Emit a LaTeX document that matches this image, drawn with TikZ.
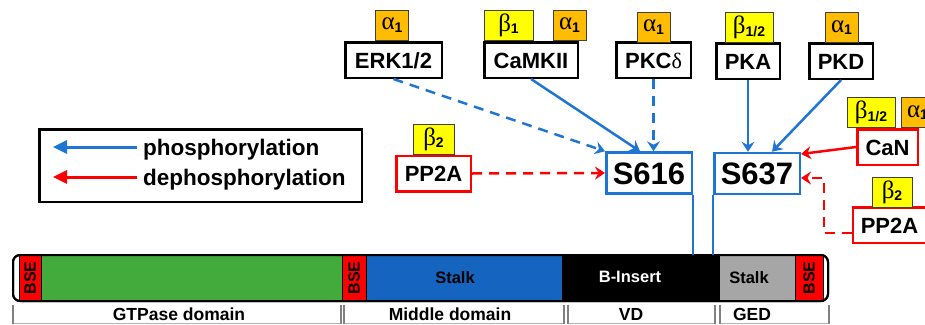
\documentclass[tikz,border=0pt]{standalone}
\usepackage{fontspec}
\setmainfont{Liberation Sans}
\newfontfamily\grk{Liberation Serif}
\usetikzlibrary{arrows.meta}
\definecolor{phblue}{RGB}{30,118,210}
\definecolor{stalkblue}{RGB}{21,101,192}
\definecolor{gtpgreen}{RGB}{67,170,60}
\definecolor{isoorange}{RGB}{255,188,0}
\definecolor{isoyellow}{RGB}{255,255,0}
\definecolor{gedgray}{RGB}{166,166,166}
\newcommand\iso[2]{{\grk\fontsize{25}{25}\selectfont #1}\raisebox{-2.5pt}{\fontsize{14}{14}\selectfont\bfseries #2}}
\begin{document}
\begin{tikzpicture}[x=1pt, y=-1pt,
    box/.style={draw=black, line width=2.5pt, fill=white, inner sep=0pt, minimum height=35.5,
      text height=16, text depth=0pt, font=\fontsize{22}{24}\selectfont\bfseries},
    pbox/.style={box, draw=red},
    site/.style={draw=phblue, line width=2.5pt, fill=white, inner sep=0pt, minimum width=85.5,
      minimum height=41, text height=22.5, text depth=0pt, font=\fontsize{31}{33}\selectfont\bfseries},
    isotag/.style={draw=black!75, line width=0.8pt, inner sep=0pt, minimum height=30},
    alph/.style={isotag, fill=isoorange, minimum width=33},
    bet/.style={isotag, fill=isoyellow},
    seg/.style={draw=black, line width=0.8pt, inner sep=0pt, minimum height=46},
    bse/.style={seg, fill=red, rotate=90, minimum width=46, minimum height=23,
      font=\fontsize{16}{16}\selectfont\bfseries},
    barlabel/.style={font=\fontsize{16.5}{18}\selectfont\bfseries},
    domlabel/.style={anchor=base, inner sep=0pt, font=\fontsize{17.5}{19}\selectfont\bfseries},
    bracket/.style={draw=gray, line width=2pt},
    legtext/.style={anchor=base west, inner sep=0pt, font=\fontsize{22.5}{24}\selectfont\bfseries},
    phos/.style={draw=phblue, line width=2.5pt, -{Stealth[length=10pt,width=13pt,inset=3.5pt]}},
    dephos/.style={phos, draw=red},
    dashes/.style={dash pattern=on 10pt off 7pt},
    legarrow/.style={line width=3pt, -{Triangle[length=14pt,width=13pt]}}
  ]
  \useasboundingbox (0,0) rectangle (925,324);
  \clip (0,0) rectangle (925,324);

  \node[draw, line width=2.5pt, minimum width=322.5, minimum height=72.5] (legend) at (200.5,165.5) {};
  \node[legtext] (phostext) at (143,155) {phosphorylation};
  \node[legtext] (dephostext) at (143,185) {dephosphorylation};
  \coordinate (phosS) at (137,147);
  \coordinate (phosE) at (53,147);
  \coordinate (dephosS) at (137,177);
  \coordinate (dephosE) at (53,177);
  \draw[legarrow, phblue] (phosS) -- (phosE);
  \draw[legarrow, red] (dephosS) -- (dephosE);

  \node[box, minimum width=96.5] (erk) at (393.5,60) {ERK1/2};
  \node[box, minimum width=93.5] (camk) at (531,60) {CaMKII};
  \node[box, minimum width=74.5] (pkc) at (653.5,60) {PKC{\grk\mdseries δ}};
  \node[box, minimum width=63.5] (pka) at (748,61) {PKA};
  \node[box, minimum width=63.5] (pkd) at (841,61) {PKD};
  \node[alph] (erkA) at (392,25) {\iso{α}{1}};
  \node[bet, minimum width=49] (camkB) at (508.5,25) {\iso{β}{1}};
  \node[alph] (camkA) at (569.5,25) {\iso{α}{1}};
  \node[alph] (pkcA) at (653.5,27) {\iso{α}{1}};
  \node[bet, minimum width=48] (pkaB) at (749,27.5) {\iso{β}{1/2}};
  \node[alph] (pkdA) at (841.5,27.5) {\iso{α}{1}};

  \node[pbox, minimum width=74.5] (pp2a) at (433.5,173.5) {PP2A};
  \node[bet, minimum width=41] (pp2aB) at (433.5,139) {\iso{β}{2}};
  \node[pbox, minimum width=60.5] (can) at (887.5,147) {CaN};
  \node[bet, minimum width=48] (canB) at (871,112.5) {\iso{β}{1/2}};
  \node[alph] (canA) at (917.5,112.5) {\iso{α}{1}};
  \node[pbox, minimum width=73] (pp2b) at (889.5,225) {PP2A};
  \node[bet, minimum width=40] (pp2bB) at (892,192) {\iso{β}{2}};

  \node[site] (s616) at (649,173) {S616};
  \node[site] (s637) at (757,173.5) {S637};

  \draw[line width=2pt, rounded corners=7pt, fill=white] (13,255) rectangle (828,301);
  \node[bse, minimum height=22] (bseA) at (30,278) {BSE};
  \node[seg, fill=gtpgreen, minimum width=301] (gtpase) at (191.5,278) {};
  \node[bse, minimum height=24] (bseB) at (354,278) {BSE};
  \node[seg, fill=stalkblue, minimum width=196] (stalkA) at (464,278) {};
  \node[seg, fill=black, minimum width=157] (binsert) at (640.5,278) {};
  \node[seg, fill=gedgray, minimum width=76] (stalkB) at (757,278) {};
  \node[bse, minimum height=28] (bseC) at (809,278) {BSE};
  \draw[line width=2pt, rounded corners=7pt] (13,255) rectangle (828,301);
  \node[barlabel] (stalkAtext) at (455,278) {Stalk};
  \node[barlabel, white] (binserttext) at (630,277) {B-Insert};
  \node[barlabel] (stalkBtext) at (749,278) {Stalk};

  \draw[draw=gray!60, line width=1pt] (13,323) -- (341,323) (344,323) -- (564,323)
    (568,323) -- (715,323) (720,323) -- (829,323);
  \draw[bracket] (13,305) -- (13,324) (341,305) -- (341,324) (344,305) -- (344,324)
    (564,305) -- (564,324) (568,305) -- (568,324) (715,305) -- (715,324)
    (720,305) -- (720,324) (829,305) -- (829,324);
  \node[domlabel] (gtpdom) at (179,320) {GTPase domain};
  \node[domlabel] (middom) at (450,320) {Middle domain};
  \node[domlabel] (vddom) at (631,320) {VD};
  \node[domlabel] (geddom) at (752,320) {GED};

  \draw[draw=phblue, line width=2.5pt] (s616.south east) -- (s616.south east |- binsert.north);
  \draw[draw=phblue, line width=2.5pt] (s637.south west) -- (s637.south west |- binsert.north);

  \draw[phos, dashes] (erk.south) -- (s616.north west);
  \draw[phos] (camk.south) -- ([xshift=-9pt]s616.north);
  \draw[phos, dashes] (pkc.south) -- (pkc.south |- s616.north);
  \draw[phos] (pka.south) -- (pka.south |- s637.north);
  \draw[phos] (pkd.south) -- ([xshift=15pt]s637.north);
  \draw[dephos, dashes] (pp2a.east) -- (s616.west);
  \draw[dephos] (can.west) -- ([yshift=19.5pt]s637.east);
  \draw[dephos, dashes] ([yshift=-8pt]pp2b.west) -- ++(-28,0) |- ([yshift=-4.5pt]s637.east);
\end{tikzpicture}
\end{document}
